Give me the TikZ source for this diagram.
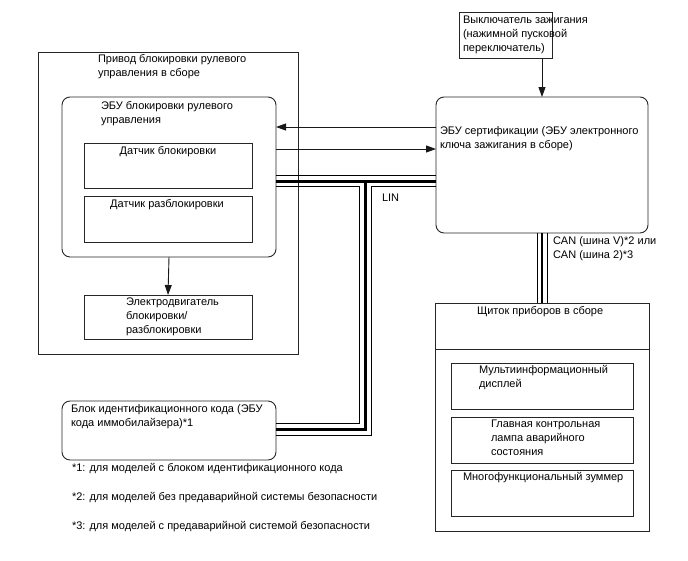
\documentclass[tikz,border=0pt]{standalone}
\usepackage{fontspec}
\setmainfont{Liberation Sans}
\usetikzlibrary{arrows.meta}
\newcommand\mkbox[6]{\node[#6, minimum width={(#4-#2)*1pt}, minimum height={(#5-#3)*1pt}] (#1) at ({(#2+#4)/2},{(#3+#5)/2}) {};}
\begin{document}
\begin{tikzpicture}[x=1pt,y=-1pt,
  box/.style={draw=black!85, line width=0.9pt, inner sep=0pt, outer sep=0pt},
  rbox/.style={box, rounded corners=8pt},
  lbl/.style={inner sep=0pt, outer sep=0pt, anchor=north west, align=left, font=\fontsize{11}{14}\selectfont, yshift=-1.5pt},
  clbl/.style={lbl, anchor=north, align=center},
  conn/.style={line width=0.9pt, black!90},
  arr/.style={conn, -{Triangle[length=10pt,width=7pt]}},
  thin/.style={line width=0.9pt, black},
  thick/.style={line width=3pt, black}]
\useasboundingbox (0,0) rectangle (688,560);
% boxes
\mkbox{priv}{38}{52}{298}{354}{box}
\mkbox{secu}{62}{97}{276}{257}{rbox}
\mkbox{sens1}{84}{143}{252}{188}{box}
\mkbox{sens2}{84}{196}{252}{242}{box}
\mkbox{motor}{84}{295}{252}{339}{box}
\mkbox{ign}{459}{12}{552}{58}{box}
\mkbox{cert}{436}{97}{648}{233}{rbox}
\mkbox{idb}{62}{401}{276}{460}{rbox}
\mkbox{clus}{435}{303}{649}{531}{box}
\mkbox{mid}{451}{363}{633}{409}{box}
\mkbox{lamp}{451}{417}{633}{463}{box}
\mkbox{buzz}{451}{470}{633}{516}{box}
\draw[box] (clus.west |- 0,349) -- (clus.east |- 0,349);
% texts
\node[lbl] (tpriv) at (98,53) {Привод блокировки рулевого\\управления в сборе};
\node[lbl] (tsecu) at (101,100) {ЭБУ блокировки рулевого\\управления};
\node[clbl] (tsens1) at (168,145) {Датчик блокировки};
\node[clbl] (tsens2) at (167,198) {Датчик разблокировки};
\node[lbl] (tmotor) at (126,296) {Электродвигатель\\блокировки/\\разблокировки};
\node[lbl] (tign) at (463,14) {Выключатель зажигания\\(нажимной пусковой\\переключатель)};
\node[lbl] (tcert) at (440,125) {ЭБУ сертификации (ЭБУ электронного\\ключа зажигания в сборе)};
\node[lbl] (tlin) at (382,192) {LIN};
\node[lbl] (tcan) at (553,235) {CAN (шина V)*2 или\\CAN (шина 2)*3};
\node[lbl] (tclus) at (477,305) {Щиток приборов в сборе};
\node[lbl] (tmid) at (479,364) {Мультиинформационный\\дисплей};
\node[lbl] (tlamp) at (491,418) {Главная контрольная\\лампа аварийного\\состояния};
\node[lbl] (tbuzz) at (463,471) {Многофункциональный зуммер};
\node[lbl] (tidb) at (71,403) {Блок идентификационного кода (ЭБУ\\кода иммобилайзера)*1};
\node[lbl] (fn1) at (72,462) {*1: для моделей с блоком идентификационного кода};
\node[lbl] (fn2) at (72,491) {*2: для моделей без предаварийной системы безопасности};
\node[lbl] (fn3) at (72,520) {*3: для моделей с предаварийной системой безопасности};
% arrows
\draw[arr] (secu.south) -- (motor.north);
\draw[arr] (ign.south -| cert.north) -- (cert.north);
\draw[arr] (cert.west |- 0,127) -- (secu.east |- 0,127);
\draw[arr] (secu.east |- 0,149) -- (cert.west |- 0,149);
% LIN bus
\draw[thin] (secu.east |- 0,175) -- (cert.west |- 0,175);
\draw[thin] (secu.east |- 0,186) -- (359,186) -- (359,423) -- (idb.east |- 0,423);
\draw[thin] (cert.west |- 0,186) -- (371,186) -- (371,435) -- (idb.east |- 0,435);
\draw[thick] (secu.east |- 0,181) -- (cert.west |- 0,181);
\draw[thick, line join=miter] (365,181) -- (365,429) -- (idb.east |- 0,429);
% CAN bus
\draw[thin] (cert.south -| 537,0) -- (clus.north -| 537,0);
\draw[thin] (cert.south -| 547,0) -- (clus.north -| 547,0);
\draw[line width=2.5pt] (cert.south -| 542,0) -- (clus.north -| 542,0);
\end{tikzpicture}
\end{document}
